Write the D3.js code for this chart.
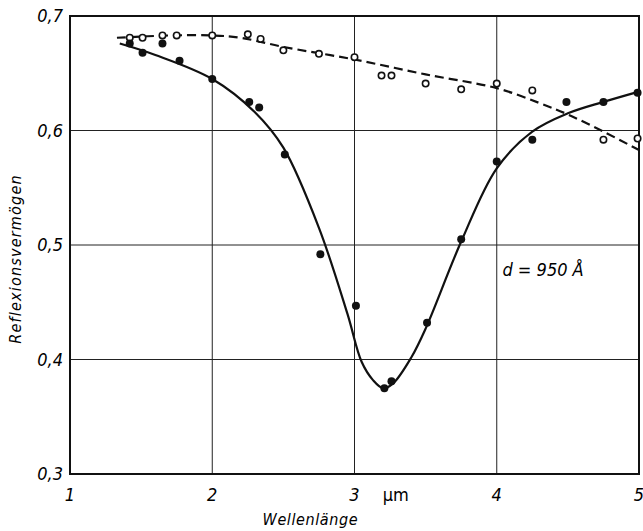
<!DOCTYPE html>
<html>
<head>
<meta charset="utf-8">
<script src="https://cdn.jsdelivr.net/npm/d3@7"></script>
<style>
body{margin:0;background:#fff}
text{font-family:"DejaVu Sans Condensed","DejaVu Sans",sans-serif;font-style:italic;fill:#000}
</style>
</head>
<body>
<div id="chart"></div>
<script>
// measured points, filled circles (solid curve)
var filled = [[1.42,0.676],[1.51,0.668],[1.65,0.676],[1.77,0.661],[2.00,0.645],[2.26,0.625],[2.33,0.620],
	[2.51,0.579],[2.76,0.492],[3.01,0.447],[3.21,0.375],[3.26,0.381],[3.51,0.432],[3.75,0.505],
	[4.00,0.573],[4.25,0.592],[4.49,0.625],[4.75,0.625],[4.99,0.633]]
// measured points, open circles (dashed curve)
var open = [[1.42,0.681],[1.51,0.681],[1.65,0.683],[1.75,0.683],[2.00,0.683],[2.25,0.684],[2.34,0.680],
	[2.50,0.670],[2.75,0.667],[3.00,0.664],[3.19,0.648],[3.26,0.648],[3.50,0.641],[3.75,0.636],
	[4.00,0.641],[4.25,0.635],[4.75,0.592],[4.99,0.593]]
// fitted curves
var solidFit = [[1.35,0.676],[1.6,0.666],[2.0,0.645],[2.3,0.616],[2.5,0.585],[2.75,0.515],[2.95,0.44],
	[3.05,0.398],[3.13,0.382],[3.2,0.375],[3.27,0.379],[3.4,0.402],[3.5,0.427],[3.75,0.503],
	[4.0,0.567],[4.25,0.599],[4.5,0.615],[4.75,0.625],[5.0,0.634]]
var dashedFit = [[1.33,0.681],[1.7,0.683],[2.0,0.683],[2.2,0.681],[2.5,0.673],[3.0,0.662],[3.5,0.649],
	[4.0,0.637],[4.3,0.624],[4.5,0.614],[4.75,0.599],[5.0,0.583]]
var xticks = [1,2,3,4,5]
var yticks = [0.3,0.4,0.5,0.6,0.7]

var W = 643, H = 531
var margin = {top:16, right:4, bottom:57, left:70},
	width = W - margin.left - margin.right,
	height = H - margin.top - margin.bottom

var svg = d3.select("#chart").append("svg").attr("width",W).attr("height",H)
var g = svg.append("g").attr("transform","translate("+margin.left+","+margin.top+")")

var x = d3.scaleLinear().domain([1,5]).range([0,width])
var y = d3.scaleLinear().domain([0.3,0.7]).range([height,0])
var fmt = function(d){return d3.format(".1f")(d).replace(".",",")}

// grid
g.selectAll(".vgrid").data(xticks.slice(1,-1)).enter().append("line")
	.attr("x1",function(d){return x(d)}).attr("x2",function(d){return x(d)})
	.attr("y1",0).attr("y2",height)
	.style("stroke","#222").style("stroke-width",1)
g.selectAll(".hgrid").data(yticks.slice(1,-1)).enter().append("line")
	.attr("y1",function(d){return y(d)}).attr("y2",function(d){return y(d)})
	.attr("x1",0).attr("x2",width)
	.style("stroke","#222").style("stroke-width",1)

g.append("rect").attr("width",width).attr("height",height)
	.style("fill","none").style("stroke","#111").style("stroke-width",2)

// tick labels
g.selectAll(".xl").data(xticks).enter().append("text")
	.attr("x",function(d){return x(d)}).attr("y",height+27)
	.style("text-anchor","middle").style("font-size","18px")
	.text(function(d){return d})
g.selectAll(".yl").data(yticks).enter().append("text")
	.attr("x",-7).attr("y",function(d){return y(d)+6})
	.style("text-anchor","end").style("font-size","18px")
	.text(fmt)

g.append("text").attr("x",x(3.29)).attr("y",height+27)
	.style("text-anchor","middle").style("font-size","18px").style("font-style","normal")
	.text("µm")
g.append("text").attr("x",x(2.69)).attr("y",height+51)
	.style("text-anchor","middle").style("font-size","16px").style("letter-spacing","0.6px")
	.text("Wellenlänge")
svg.append("text").attr("transform","translate(21,259) rotate(-90)")
	.style("text-anchor","middle").style("font-size","16px").style("letter-spacing","1.2px")
	.text("Reflexionsvermögen")
g.append("text").attr("x",x(4.04)).attr("y",y(0.478)+6)
	.style("font-size","18px")
	.text("d = 950 Å")

var line = d3.line().x(function(d){return x(d[0])}).y(function(d){return y(d[1])})
	.curve(d3.curveCatmullRom.alpha(0.5))

g.append("path").datum(solidFit).attr("d",line)
	.style("fill","none").style("stroke","#111").style("stroke-width",2.2)
g.append("path").datum(dashedFit).attr("d",line)
	.style("fill","none").style("stroke","#111").style("stroke-width",2.2)
	.style("stroke-dasharray","9,5")

g.selectAll(".op").data(open).enter().append("circle")
	.attr("cx",function(d){return x(d[0])}).attr("cy",function(d){return y(d[1])})
	.attr("r",3.2).style("fill","#fff").style("stroke","#111").style("stroke-width",1.6)
g.selectAll(".fp").data(filled).enter().append("circle")
	.attr("cx",function(d){return x(d[0])}).attr("cy",function(d){return y(d[1])})
	.attr("r",4).style("fill","#111")
</script>
</body>
</html>
